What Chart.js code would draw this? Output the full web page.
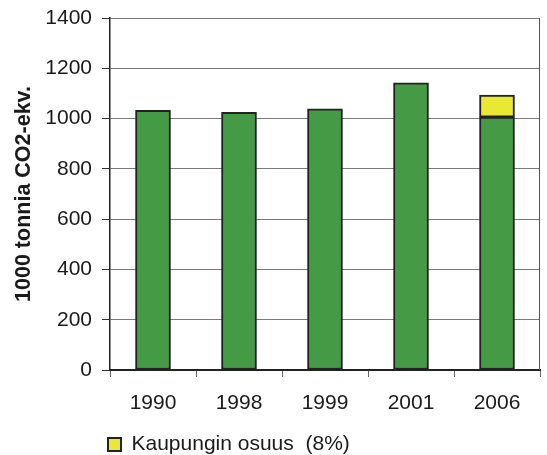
<!DOCTYPE html>
<html>
<head>
<meta charset="utf-8">
<script src="https://cdn.jsdelivr.net/npm/chart.js@4"></script>
<style>
    html, body { margin: 0; padding: 0; background: #fff; }
    #wrap { width: 547px; height: 455px; }
</style>
</head>
<body>
<div id="wrap"><canvas id="grafiikka" width="547" height="455"></canvas></div>
<script>
// Vuodet ja päästöt (1000 t CO2-ekv.)
const vuodet = ["1990", "1998", "1999", "2001", "2006"];
const muutPaastot = [1033, 1025, 1039, 1142, 1006];
const kaupunginOsuus = [null, null, null, null, 87];
const yAkselinTikit = [0, 200, 400, 600, 800, 1000, 1200, 1400];

const fontti = "'Liberation Sans', Arial, sans-serif";
const tekstiVari = "#1a1a1a";

// Oikea reuna kuva-alueelle + legendan siirto akselin kohdalle
const reunaPlugin = {
    id: "reuna",
    afterLayout(chart) {
        const leg = chart.legend;
        if (!leg) return;
        const dx = chart.chartArea.left - 6 - leg.left;
        leg.left += dx;
        leg.right += dx;
        leg.top += 10;
        leg.bottom += 10;
    },
    beforeDatasetsDraw(chart) {
        const { ctx, chartArea } = chart;
        ctx.save();
        ctx.strokeStyle = "#555";
        ctx.lineWidth = 1;
        ctx.beginPath();
        ctx.moveTo(chartArea.right - 0.5, chartArea.top);
        ctx.lineTo(chartArea.right - 0.5, chartArea.bottom);
        ctx.stroke();
        ctx.restore();
    }
};

new Chart(document.getElementById("grafiikka").getContext("2d"), {
    type: "bar",
    data: {
        labels: vuodet,
        datasets: [{
            label: "Muut",
            data: muutPaastot,
            backgroundColor: "#459B45",
            borderColor: "#222",
            borderWidth: 2,
            borderSkipped: false,
            barThickness: 35
        }, {
            label: "Kaupungin osuus  (8%)",
            data: kaupunginOsuus,
            backgroundColor: "#E9E934",
            borderColor: "#222",
            borderWidth: 2,
            borderSkipped: false,
            barThickness: 35
        }]
    },
    options: {
        responsive: false,
        animation: false,
        layout: { padding: { left: 0, right: 7, top: 18, bottom: 0 } },
        plugins: {
            tooltip: { enabled: false },
            legend: {
                position: "bottom",
                align: "start",
                labels: {
                    filter: item => item.datasetIndex === 1,
                    boxWidth: 13,
                    boxHeight: 13,
                    padding: 4,
                    color: tekstiVari,
                    font: { family: fontti, size: 21 }
                }
            }
        },
        scales: {
            x: {
                stacked: true,
                afterFit: scale => {
                    scale.height = 50;
                    scale.paddingLeft = 0;
                    scale.paddingRight = 0;
                },
                grid: {
                    drawOnChartArea: false,
                    offset: true,
                    tickLength: 7,
                    tickColor: "#666"
                },
                border: { color: "#222", width: 2 },
                ticks: {
                    color: tekstiVari,
                    padding: 14,
                    font: { family: fontti, size: 21 }
                }
            },
            y: {
                stacked: true,
                min: 0,
                max: 1400,
                afterFit: scale => {
                    scale.width = 110;
                    scale.paddingTop = 0;
                    scale.paddingBottom = 0;
                },
                afterBuildTicks: scale => {
                    scale.ticks = yAkselinTikit.map(v => ({ value: v }));
                },
                grid: {
                    color: "#7a7a7a",
                    lineWidth: 1,
                    tickLength: 8,
                    tickColor: "#333"
                },
                border: { color: "#222", width: 1.5 },
                ticks: {
                    color: tekstiVari,
                    padding: 10,
                    font: { family: fontti, size: 21 },
                    callback: value => String(value)
                },
                title: {
                    display: true,
                    text: "1000 tonnia CO2-ekv.",
                    color: tekstiVari,
                    padding: { top: 11, bottom: 0 },
                    font: { family: fontti, size: 21.5, weight: "bold" }
                }
            }
        }
    },
    plugins: [reunaPlugin]
});
</script>
</body>
</html>
